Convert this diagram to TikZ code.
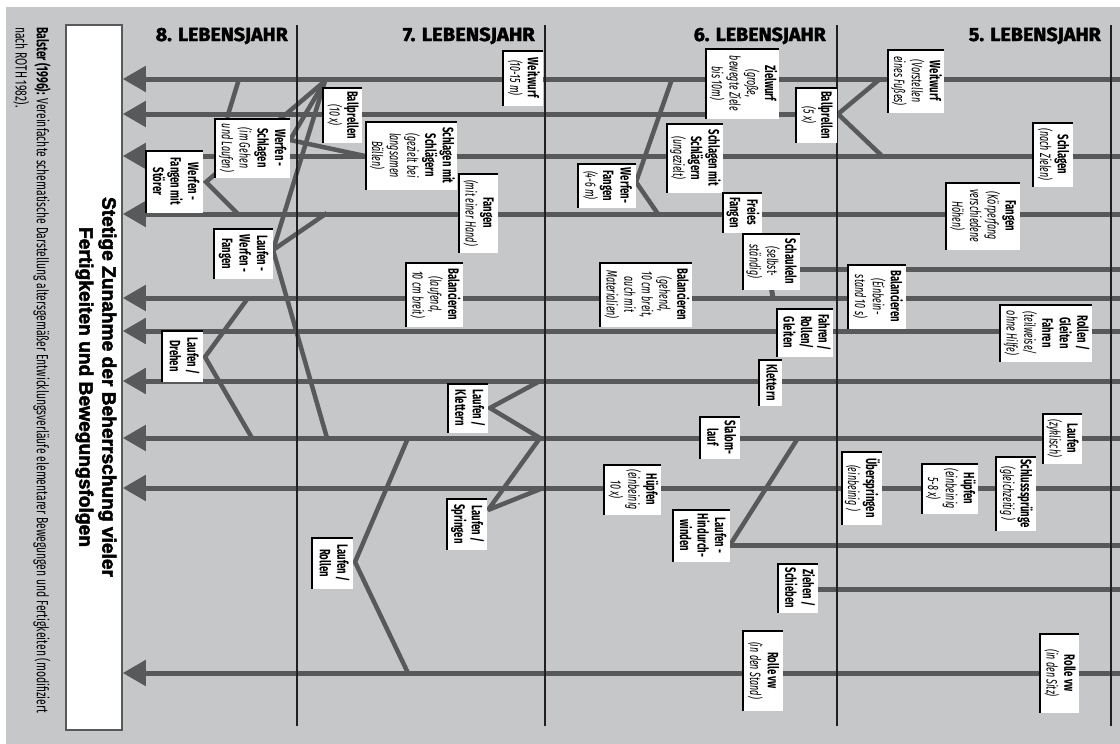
\documentclass[tikz,border=0pt]{standalone}
\usepackage{fontspec}
\usepackage{graphicx}
\setmainfont{Fira Sans}
\newfontfamily\condf{Fira Sans}[UprightFeatures={FakeStretch=0.64}, BoldFeatures={FakeStretch=0.64}, ItalicFeatures={FakeStretch=0.6}, BoldItalicFeatures={FakeStretch=0.6}]
\newfontfamily\headf{Fira Sans}[BoldFeatures={FakeBold=2}]
\newfontfamily\titlef{Liberation Sans}[BoldFeatures={FakeBold=2.5}]
\usetikzlibrary{arrows.meta}
\definecolor{bg}{RGB}{198,199,201}
\definecolor{ln}{RGB}{88,89,91}
\definecolor{colc}{RGB}{35,31,32}
\pgfdeclarelayer{back}
\pgfdeclarelayer{mid}
\pgfsetlayers{back,mid,main}
\newcommand\labfont{\condf\fontsize{15}{17.5}\selectfont}
\newcommand\lbl[6]{\node[lab, minimum width={(#4-#2)*1pt}, minimum height={(#5-#3)*1pt}] (#1) at ({(#2+#4)/2},{(#3+#5)/2}) {\labfont\rotatebox{-90}{\begin{tabular}{@{}c@{}}#6\end{tabular}}};}
\newcommand\hdr[3]{\node[anchor=base east, inner sep=0pt] (#1) at (#2,41) {\resizebox{132pt}{13.5pt}{\headf\bfseries #3}};}
\begin{document}
\begin{tikzpicture}[x=1pt,y=-1pt,
  lab/.style={fill=white, inner sep=0pt, outer sep=0pt,
    path picture={\draw[black,line width=3pt] (path picture bounding box.south west) -- (path picture bounding box.north west) -- (path picture bounding box.north east);}},
  arr/.style={draw=ln, line width=5pt, -{Triangle[length=23pt,width=25pt]}},
  seg/.style={draw=ln, line width=5pt},
  dia/.style={draw=ln, line width=4.5pt, line join=miter, miter limit=3},
  colline/.style={draw=colc, line width=1.5pt},
  titlebox/.style={draw=ln, line width=1.5pt, fill=white, inner sep=0pt, minimum width=56pt, minimum height=705pt}]
\useasboundingbox (0,0) rectangle (1120,744);
\begin{pgfonlayer}{back}
\fill[white] (0,0) rectangle (1120,744);
\fill[bg] (6,7) rectangle (1120,744);
\end{pgfonlayer}

% title box
\node[titlebox] (title) at (94,377.5) {};
\node[inner sep=0pt] (titletext) at (95.5,387) {\rotatebox{-90}{\titlef\bfseries\fontsize{20}{23}\selectfont\begin{tabular}{@{}c@{}}\resizebox{380pt}{!}{Stetige Zunahme der Beherrschung vieler}\\\resizebox{320pt}{!}{Fertigkeiten und Bewegungsfolgen}\end{tabular}}};

% footer
\node[anchor=north west, rotate=-90, inner sep=0pt] (foot) at (52,27) {\resizebox{686pt}{!}{\condf\fontsize{13}{17}\selectfont\begin{tabular}{@{}l@{}}\textbf{Balster (1996):} Vereinfachte schematische Darstellung altersgemäßer Entwicklungsverläufe elementarer Bewegungen und Fertigkeiten (modifiziert\\nach ROTH 1982).\end{tabular}}};

% headers
\hdr{h8}{288}{8. LEBENSJAHR}
\hdr{h7}{535}{7. LEBENSJAHR}
\hdr{h6}{826}{6. LEBENSJAHR}
\hdr{h5}{1101}{5. LEBENSJAHR}

% labels: 5. Lebensjahr
\lbl{w5}{887}{49}{944}{113}{\textbf{Weitwurf}\\\textit{(Vorstellen}\\\textit{eines Fußes)}}
\lbl{s5}{1032}{122}{1073}{187}{\textbf{Schlagen}\\\textit{(nach Zielen)}}
\lbl{f5}{945}{182}{1020}{250}{\textbf{Fangen}\\\textit{(Körperfang}\\\textit{verschiedene}\\\textit{Höhen)}}
\lbl{b5}{847}{264}{906}{329}{\textbf{Balancieren}\\\textit{(Einbein-}\\\textit{stand 10 s)}}
\lbl{r5}{999}{304}{1092}{362}{\textbf{Rollen /}\\\textbf{Gleiten}\\\textbf{Fahren}\\\textit{(teilweise/}\\\textit{ohne Hilfe)}}
\lbl{l5}{1042}{413}{1082}{464}{\textbf{Laufen}\\\textit{(zyklisch)}}
\lbl{u5}{841}{451}{882}{525}{\textbf{Überspringen}\\\textit{(einbeinig )}}
\lbl{h5l}{921}{463}{978}{514}{\textbf{Hüpfen}\\\textit{(einbeinig}\\\textit{5-8 x)}}
\lbl{sp5}{995}{456}{1036}{531}{\textbf{Schlusssprünge}\\\textit{(gleichzeitig )}}
\lbl{rv5}{1039}{633}{1079}{713}{\textbf{Rolle vw}\\\textit{(in den Sitz)}}
% 6. Lebensjahr
\lbl{zw6}{705}{48}{779}{119}{\textbf{Zielwurf}\\\textit{(große,}\\\textit{bewegte Ziele}\\\textit{bis 10m)}}
\lbl{bp6}{795}{87}{837}{143}{\textbf{Ballprellen}\\\textit{(5 x)}}
\lbl{sm6}{666}{123}{723}{193}{\textbf{Schlagen mit}\\\textbf{Schlägern}\\\textit{(ungezielt)}}
\lbl{wf6}{577}{163}{636}{208}{\textbf{Werfen-}\\\textbf{Fangen}\\\textit{(4-6 m)}}
\lbl{ff6}{722}{192}{762}{233}{\textbf{Freies}\\\textbf{Fangen}}
\lbl{sk6}{742}{233}{800}{290}{\textbf{Schaukeln}\\\textit{(selbst-}\\\textit{ständig)}}
\lbl{b6}{599}{262}{692}{327}{\textbf{Balancieren}\\\textit{(gehend,}\\\textit{10 cm breit,}\\\textit{auch mit}\\\textit{Materialien)}}
\lbl{fr6}{776}{308}{833}{357}{\textbf{Fahren /}\\\textbf{Rollen/}\\\textbf{Gleiten}}
\lbl{k6}{758}{359}{782}{406}{\textbf{Klettern}}
\lbl{sl6}{699}{416}{740}{459}{\textbf{Slalom-}\\\textbf{lauf}}
\lbl{h6l}{603}{464}{661}{515}{\textbf{Hüpfen}\\\textit{(einbeinig}\\\textit{10 x)}}
\lbl{lh6}{672}{509}{730}{562}{\textbf{Laufen -}\\\textbf{Hindurch-}\\\textbf{winden}}
\lbl{zs6}{777}{563}{818}{613}{\textbf{Ziehen /}\\\textbf{Schieben}}
\lbl{rv6}{742}{630}{783}{711}{\textbf{Rolle vw}\\\textit{(in den Stand)}}
% 7. Lebensjahr
\lbl{w7}{502}{50}{543}{106}{\textbf{Weitwurf}\\\textit{(10-15 m)}}
\lbl{bp7}{322}{87}{362}{143}{\textbf{Ballprellen}\\\textit{(10 x)}}
\lbl{sm7}{365}{121}{457}{190}{\textbf{Schlagen mit}\\\textbf{Schlägern}\\\textit{(gezielt bei}\\\textit{langsamen}\\\textit{Bällen)}}
\lbl{f7}{458}{173}{498}{253}{\textbf{Fangen}\\\textit{(mit einer Hand)}}
\lbl{b7}{405}{262}{463}{327}{\textbf{Balancieren}\\\textit{(laufend,}\\\textit{10 cm breit)}}
\lbl{lk7}{447}{383}{488}{433}{\textbf{Laufen /}\\\textbf{Klettern}}
\lbl{ls7}{446}{498}{487}{550}{\textbf{Laufen /}\\\textbf{Springen}}
\lbl{lr7}{311}{537}{353}{589}{\textbf{Laufen /}\\\textbf{Rollen}}
% 8. Lebensjahr
\lbl{ws8}{214}{118}{290}{178}{\textbf{Werfen -}\\\textbf{Schlagen}\\\textit{(im Gehen}\\\textit{und Laufen)}}
\lbl{wf8}{145}{150}{203}{213}{\textbf{Werfen -}\\\textbf{Fangen mit}\\\textbf{Störer}}
\lbl{lwf8}{213}{228}{273}{279}{\textbf{Laufen -}\\\textbf{Werfen -}\\\textbf{Fangen}}
\lbl{ld8}{161}{330}{203}{382}{\textbf{Laufen /}\\\textbf{Drehen}}

\begin{pgfonlayer}{mid}
% right ends
\foreach \n/\y in {1/79,3/156,4/214,5/269,6/298,7/331,8/381,9/438,10/488,11/545,12/589,13/673}
  {\coordinate (e\n) at (1120,\y);}
\coordinate (v5) at (838,114);
% arrows
\foreach \n in {1,3,4,6,7,8,9,10,13} {\draw[arr] (e\n) -- (title.east |- e\n);}
\draw[arr] (v5) -- (title.east |- v5);
\draw[seg] (sk6.east |- e5) -- (e5);
\draw[seg] (lh6.east |- e11) -- (e11);
\draw[seg] (zs6.east |- e12) -- (e12);
% junctions 5. Lebensjahr
\coordinate (a1) at (880,79); \coordinate (a2) at (882,156);
\draw[dia] (a1) -- (v5) -- (a2);
% 6. Lebensjahr
\coordinate (b1) at (672,79); \coordinate (b2) at (636,182); \coordinate (b3) at (658,214);
\draw[dia] (b1) -- (b2) -- (b3);
\draw[seg] (sk6.south |- 0,286) -- (773,298);
\coordinate (c1) at (730,545); \coordinate (c2) at (798,438);
\draw[dia] (c1) -- (c2);
% 7. Lebensjahr
\coordinate (d1) at (540,381); \coordinate (d2) at (490,408); \coordinate (d3) at (540,438);
\draw[dia] (d1) -- (d2) -- (d3);
\coordinate (d4) at (488,510); \coordinate (d5) at (543,488);
\draw[dia] (d3) -- (d4) -- (d5);
\coordinate (g1) at (408,438); \coordinate (g2) at (355,562); \coordinate (g3) at (408,673);
\draw[dia] (g1) -- (g2) -- (g3);
% 8. Lebensjahr
\coordinate (k1) at (248,298); \coordinate (k2) at (205,357); \coordinate (k3) at (252,438);
\draw[dia] (k1) -- (k2) -- (k3);
\coordinate (m1) at (327,213); \coordinate (m2) at (273,250); \coordinate (m3) at (327,438);
\draw[dia] (m1) -- (m2) -- (m3);
\coordinate (n1) at (239,79); \coordinate (n2) at (227,118);
\draw[dia] (n1) -- (n2);
\coordinate (p1) at (325,81); \coordinate (p2) at (290,140); \coordinate (p3) at (365,156);
\draw[dia] (p1) -- (p2) -- (p3);
\draw[dia] (p1) -- (m2);
\coordinate (q1) at (206,182); \coordinate (q2) at (238,214);
\draw[dia] (p1) -- (q1) -- (q2);
% column lines
\foreach \x/\nm in {297/c8,545/c7,837/c6,1111/c5} {
  \coordinate (\nm t) at (\x,25); \coordinate (\nm b) at (\x,726);
  \draw[colline] (\nm t) -- (\nm b);}
\end{pgfonlayer}
\end{tikzpicture}
\end{document}
